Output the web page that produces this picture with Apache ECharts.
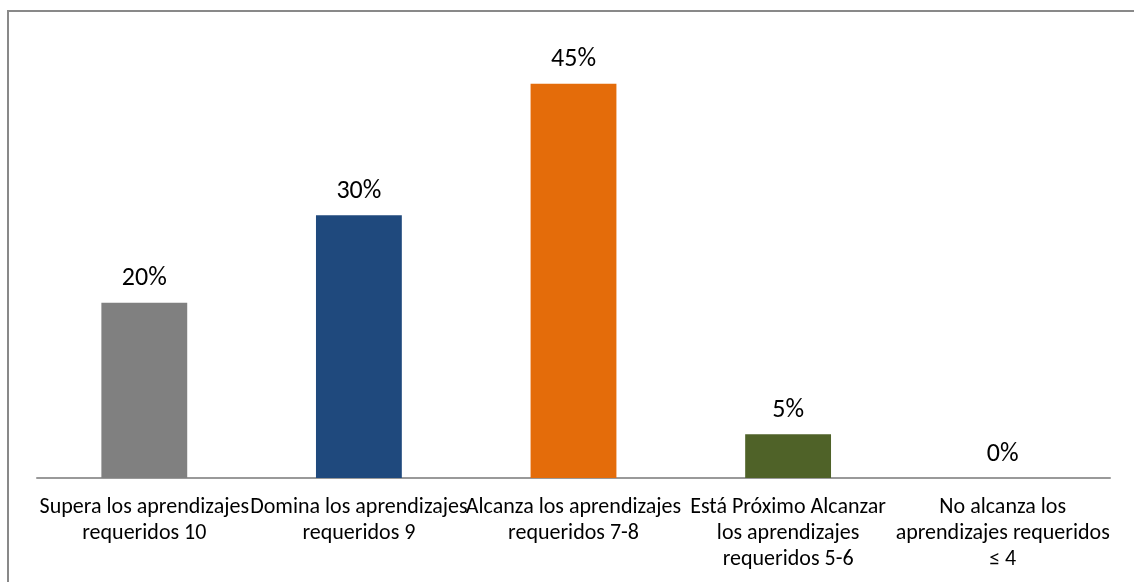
<!DOCTYPE html>
<html>
<head>
<meta charset="utf-8">
<script src="https://cdn.jsdelivr.net/npm/echarts@6/dist/echarts.min.js"></script>
<style>
html,body{margin:0;padding:0;background:#fff;}
#chart{width:1134px;height:582px;}
</style>
</head>
<body>
<div id="chart"></div>
<script>
const categories = [
  "Supera los aprendizajes\nrequeridos 10",
  "Domina los aprendizajes\nrequeridos 9",
  "Alcanza los aprendizajes\nrequeridos 7-8",
  "Está Próximo Alcanzar\nlos aprendizajes\nrequeridos 5-6",
  "No alcanza los\naprendizajes requeridos\n≤ 4"
];
const values = [20, 30, 45, 5, 0];
const barColors = ["#808080", "#1F497D", "#E46C0A", "#4F6228", "#4BACC6"];

const FONT = "Carlito, Lato, 'Liberation Sans', sans-serif";
const chart = echarts.init(document.getElementById('chart'), null, {renderer: 'canvas'});
chart.setOption({
  animation: false,
  backgroundColor: '#fff',
  graphic: [{
    type: 'rect',
    shape: {x: 8, y: 11, width: 1200, height: 700},
    style: {fill: 'none', stroke: '#898989', lineWidth: 2},
    silent: true
  }],
  grid: {left: 37, right: 24, top: 40, bottom: 104, containLabel: false},
  xAxis: {
    type: 'category',
    data: categories,
    axisLine: {show: true, lineStyle: {color: '#999999', width: 2}},
    axisTick: {show: false},
    axisLabel: {
      interval: 0,
      color: '#000',
      fontFamily: FONT,
      fontSize: 22,
      lineHeight: 26,
      margin: 16,
      align: 'center'
    }
  },
  yAxis: {
    type: 'value',
    min: 0, max: 50,
    show: false,
    splitLine: {show: false}
  },
  series: [{
    type: 'bar',
    data: values.map((v, i) => ({value: v, itemStyle: {color: barColors[i]}})),
    barWidth: '40%',
    label: {
      show: true,
      position: 'top',
      distance: 11,
      formatter: p => p.value + '%',
      color: '#000',
      fontFamily: FONT,
      fontSize: 26
    }
  }]
});
</script>
</body>
</html>
